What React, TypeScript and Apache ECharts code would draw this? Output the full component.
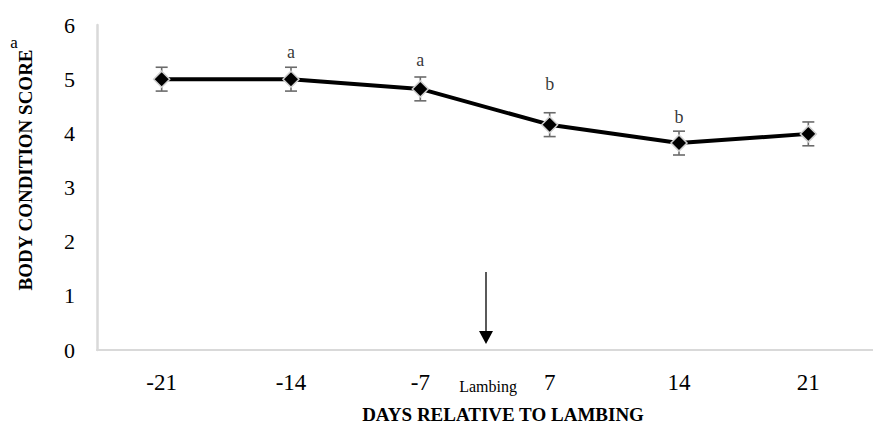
import React, { useEffect, useRef } from "react";
import * as echarts from "echarts";

const categories = ["-21", "-14", "-7", "7", "14", "21"];
const means = [5.0, 5.0, 4.82, 4.16, 3.82, 3.99];
const errors = [0.22, 0.22, 0.22, 0.22, 0.22, 0.22];
const letters = ["", "a", "a", "b", "b", ""];
const letterY = [null, 5.51, 5.36, 4.92, 4.31, null];
const yTicks = [0, 1, 2, 3, 4, 5, 6];

const SERIF = "'Liberation Serif', 'Times New Roman', serif";

export default function App() {
  const ref = useRef<HTMLDivElement>(null);
  useEffect(() => {
    if (!ref.current) return;
    const chart = echarts.init(ref.current, null, { renderer: "svg" });
    const errData = means.map((m, i) => [i, m, errors[i]]);
    const letterData = letters
      .map((l, i) => ({ value: [i, letterY[i]], label: l }))
      .filter((d) => d.label !== "");
    chart.setOption({
      animation: false,
      backgroundColor: "#ffffff",
      grid: { left: 97, top: 25, width: 788, height: 325, containLabel: false },
      xAxis: {
        type: "category",
        data: categories,
        boundaryGap: true,
        axisLine: { show: true, lineStyle: { color: "#d9d9d9", width: 2 } },
        axisTick: { show: false },
        axisLabel: { color: "#000", fontSize: 23, fontFamily: SERIF, margin: 21 },
        splitLine: { show: false },
      },
      yAxis: {
        type: "value",
        min: yTicks[0],
        max: yTicks[yTicks.length - 1],
        interval: 1,
        axisLine: { show: true, lineStyle: { color: "#d9d9d9", width: 2.5 } },
        axisTick: { show: false },
        axisLabel: { color: "#000", fontSize: 22, fontFamily: SERIF, margin: 22 },
        splitLine: { show: false },
      },
      series: [
        {
          type: "custom",
          z: 2,
          data: errData,
          renderItem: (params: any, api: any) => {
            const i = api.value(0);
            const m = api.value(1);
            const e = api.value(2);
            const top = api.coord([i, m + e]);
            const bot = api.coord([i, m - e]);
            const w = 6;
            const style = { stroke: "#6b6b6b", lineWidth: 1.6 };
            return {
              type: "group",
              children: [
                { type: "line", shape: { x1: top[0], y1: top[1], x2: bot[0], y2: bot[1] }, style },
                { type: "line", shape: { x1: top[0] - w, y1: top[1], x2: top[0] + w, y2: top[1] }, style },
                { type: "line", shape: { x1: bot[0] - w, y1: bot[1], x2: bot[0] + w, y2: bot[1] }, style },
              ],
            };
          },
        },
        {
          type: "line",
          z: 3,
          data: means,
          symbol: "diamond",
          symbolSize: 16,
          lineStyle: { color: "#000", width: 4 },
          itemStyle: { color: "#000", borderColor: "#d0d0d0", borderWidth: 1.5 },
        },
        {
          type: "scatter",
          z: 4,
          data: letterData.map((d) => d.value),
          symbolSize: 0,
          label: {
            show: true,
            position: "inside",
            color: "#000",
            fontSize: 18,
            fontFamily: SERIF,
            formatter: (p: any) => letterData[p.dataIndex].label,
          },
        },
      ],
      graphic: [
        {
          type: "line",
          shape: { x1: 486, y1: 272, x2: 486, y2: 334 },
          style: { stroke: "#000", lineWidth: 1.3 },
        },
        {
          type: "polygon",
          shape: { points: [[479, 331], [493, 331], [486, 344]] },
          style: { fill: "#000" },
        },
        {
          type: "text",
          x: 488,
          y: 386,
          style: {
            text: "Lambing",
            fill: "#000",
            font: `16px ${SERIF}`,
            textAlign: "center",
            textVerticalAlign: "middle",
          },
        },
        {
          type: "text",
          x: 503,
          y: 414,
          style: {
            text: "DAYS RELATIVE TO LAMBING",
            fill: "#000",
            font: `bold 19px ${SERIF}`,
            textAlign: "center",
            textVerticalAlign: "middle",
          },
        },
        {
          type: "text",
          x: 25,
          y: 170,
          rotation: Math.PI / 2,
          style: {
            text: "BODY CONDITION SCORE",
            fill: "#000",
            font: `bold 19px ${SERIF}`,
            textAlign: "center",
            textVerticalAlign: "middle",
          },
        },
        {
          type: "text",
          x: 14,
          y: 42,
          style: {
            text: "a",
            fill: "#000",
            font: `17px ${SERIF}`,
            textAlign: "center",
            textVerticalAlign: "middle",
          },
        },
      ],
    });
    return () => chart.dispose();
  }, []);
  return (
    <div
      ref={ref}
      style={{ position: "absolute", left: 0, top: 0, width: 873, height: 428, background: "#fff" }}
    />
  );
}
